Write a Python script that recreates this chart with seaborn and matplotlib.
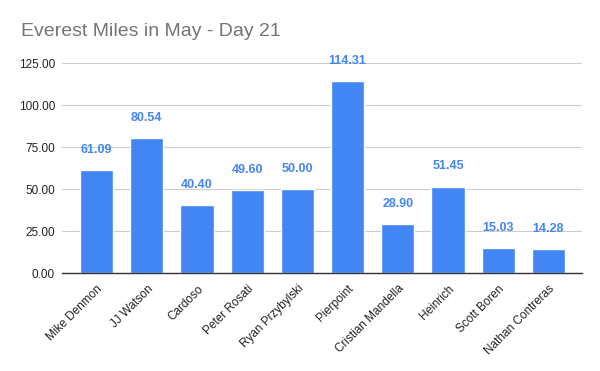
import matplotlib
matplotlib.use("Agg")
import matplotlib.pyplot as plt
import seaborn as sns
import pandas as pd

names = ["Mike Denmon", "JJ Watson", "Cardoso", "Peter Rosati", "Ryan Przybylski",
         "Pierpoint", "Cristian Mandella", "Heinrich", "Scott Boren", "Nathan Contreras"]
miles = [61.09, 80.54, 40.40, 49.60, 50.00, 114.31, 28.90, 51.45, 15.03, 14.28]
yticks = [0, 25, 50, 75, 100, 125]

BLUE = "#4285F4"

sns.set_theme(style="white")
plt.rcParams["font.family"] = ["Liberation Sans", "DejaVu Sans"]

df = pd.DataFrame({"name": names, "miles": miles})

fig = plt.figure(figsize=(6, 3.71), dpi=100)
# axes box: x 62..582 px, y 63..273 px
ax = fig.add_axes([62 / 600, 1 - 273 / 371, 520 / 600, 210 / 371])
sns.barplot(data=df, x="name", y="miles", color=BLUE, saturation=1, width=0.66, ax=ax)

for i, v in enumerate(miles):
    ax.text(i, v + 12, f"{v:.2f}", ha="center", va="center", color=BLUE,
            fontsize=9, fontweight="bold")

ax.set_ylim(0, 125)
ax.set_yticks(yticks)
ax.set_yticklabels([f"{t:.2f}" for t in yticks], fontsize=8.5, color="#222222")
ax.set_xticks(range(len(names)))
ax.set_xticklabels(names, rotation=45, ha="right", rotation_mode="anchor",
                   fontsize=8.5, color="#222222")
ax.tick_params(axis="both", length=0, pad=5)
ax.tick_params(axis="x", pad=7)
ax.set_xlabel("")
ax.set_ylabel("")
ax.set_xlim(-0.69, len(names) - 0.33)
ax.grid(axis="y", color="#cccccc", linewidth=0.8)
ax.set_axisbelow(True)
for s in ["top", "right", "left"]:
    ax.spines[s].set_visible(False)
ax.spines["bottom"].set_color("#333333")
ax.spines["bottom"].set_linewidth(1)

fig.text(21 / 600, 1 - 32 / 371, "Everest Miles in May - Day 21", fontsize=14,
         color="#757575", ha="left", va="center")

fig.savefig("out.png", dpi=100)
